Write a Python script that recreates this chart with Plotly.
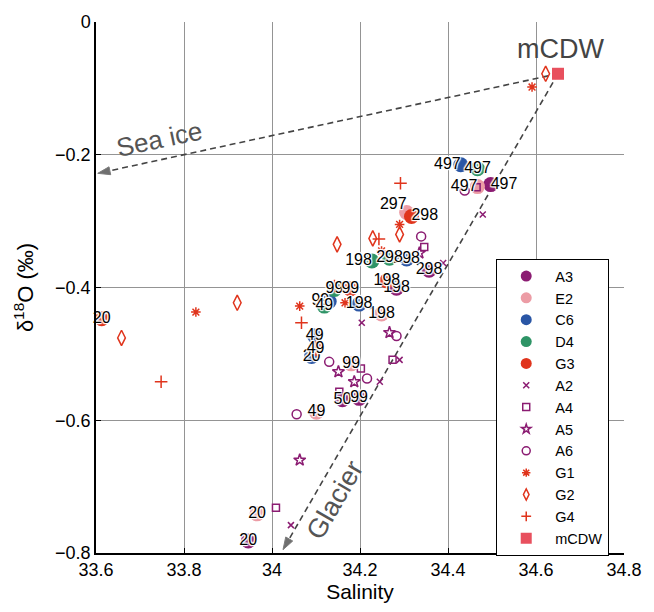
import plotly.graph_objects as go

# ---------------- data ----------------
A3_x = [33.946, 34.160, 34.198, 34.283, 34.357, 34.497]
A3_y = [-0.782, -0.569, -0.567, -0.401, -0.374, -0.245]
A3_t = ["20", "50", "99", "198", "298", "497"]

E2_x = [33.966, 34.101, 34.180, 34.249, 34.306, 34.467]
E2_y = [-0.741, -0.588, -0.515, -0.440, -0.287, -0.248]
E2_t = ["20", "49", "99", "198", "297", "497"]

C6_x = [34.090, 34.097, 34.130, 34.198, 34.306, 34.429]
C6_y = [-0.504, -0.473, -0.421, -0.425, -0.357, -0.215]
C6_t = ["20", "49", "99", "198", "298", "497"]

D4_x = [34.119, 34.142, 34.227, 34.267, 34.467]
D4_y = [-0.428, -0.403, -0.360, -0.356, -0.221]
D4_t = ["49", "99", "198", "298", "497"]

G3_x = [33.613, 34.099, 34.178, 34.261, 34.317]
G3_y = [-0.447, -0.492, -0.402, -0.390, -0.293]
G3_t = ["20", "49", "99", "198", "298"]

A2_x = [34.043, 34.245, 34.290, 34.204, 34.389, 34.479]
A2_y = [-0.758, -0.542, -0.509, -0.453, -0.363, -0.290]

A4_x = [34.009, 34.153, 34.202, 34.274, 34.346, 34.465]
A4_y = [-0.732, -0.557, -0.522, -0.509, -0.339, -0.249]

A5_x = [34.063, 34.151, 34.187, 34.267, 34.335]
A5_y = [-0.660, -0.527, -0.542, -0.468, -0.348]

A6_x = [34.056, 34.130, 34.216, 34.283, 34.339, 34.438]
A6_y = [-0.591, -0.512, -0.537, -0.473, -0.323, -0.254]

G1_x = [33.827, 34.063, 34.166, 34.249, 34.290, 34.591]
G1_y = [-0.437, -0.428, -0.423, -0.345, -0.305, -0.098]

G2_x = [33.658, 33.921, 34.148, 34.229, 34.290, 34.622]
G2_y = [-0.476, -0.423, -0.335, -0.326, -0.320, -0.078]

G4_x = [33.748, 34.067, 34.142, 34.243, 34.292]
G4_y = [-0.542, -0.453, -0.398, -0.327, -0.243]

mCDW_x = [34.65]
mCDW_y = [-0.078]

seaice_end = (33.604, -0.228)
glacier_end = (34.025, -0.795)

# ---------------- styles ----------------
PURPLE = "#8B1C72"
PINK = "#EC9CA5"
BLUE = "#2A56A5"
GREEN = "#2E9466"
RED = "#E0341C"
MCDW = "#E8505E"
FONT = "Liberation Sans, Arial, sans-serif"
HALO = ("1px 1px 1px white, -1px -1px 1px white, 1px -1px 1px white, "
        "-1px 1px 1px white, 0px 1px 1px white, 0px -1px 1px white")

fig = go.Figure()

# mixing lines with arrows
for end in (seaice_end, glacier_end):
    fig.add_trace(go.Scatter(
        x=[mCDW_x[0], end[0]], y=[mCDW_y[0], end[1]],
        mode="lines+markers", showlegend=False, hoverinfo="skip",
        line=dict(color="#444444", width=1.6, dash="6px,4px"),
        marker=dict(symbol="arrow", angleref="previous", size=[0, 13], color="#333333"),
        cliponaxis=False,
    ))

circle_series = [
    ("A3", A3_x, A3_y, A3_t, PURPLE, ["middle center"] * 5 + ["middle right"]),
    ("E2", E2_x, E2_y, E2_t, PINK, ["middle center"] * 4 + ["top left", "middle left"]),
    ("C6", C6_x, C6_y, C6_t, BLUE, ["middle center", "middle center", "middle left",
                                    "middle center", "middle center", "middle left"]),
    ("D4", D4_x, D4_y, D4_t, GREEN, ["middle center", "middle center", "middle left",
                                     "middle center", "middle center"]),
    ("G3", G3_x, G3_y, G3_t, RED, ["middle center"] * 4 + ["middle right"]),
]
# name, x, y, symbol, colour, plot size, legend size
small_series = [
    ("A2", A2_x, A2_y, "x-thin-open", PURPLE, 6, 6),
    ("A4", A4_x, A4_y, "square-open", PURPLE, 7, 7),
    ("A5", A5_x, A5_y, "star-open", PURPLE, 9, 7),
    ("A6", A6_x, A6_y, "circle-open", PURPLE, 9, 8),
    ("G1", G1_x, G1_y, "asterisk-open", RED, 8, 7),
    ("G2", G2_x, G2_y, "diamond-tall-open", RED, 11, 8),
    ("G4", G4_x, G4_y, "cross-thin-open", RED, 9, 7),
]

# data markers (no legend)
for name, xs, ys, ts, color, pos in circle_series:
    fig.add_trace(go.Scatter(x=xs, y=ys, mode="markers", showlegend=False,
                             marker=dict(symbol="circle", size=15, color=color),
                             cliponaxis=False))
for name, xs, ys, sym, color, size, lsize in small_series:
    fig.add_trace(go.Scatter(x=xs, y=ys, mode="markers", showlegend=False,
                             marker=dict(symbol=sym, size=size, color=color,
                                         line=dict(color=color, width=1.5)),
                             cliponaxis=False))
fig.add_trace(go.Scatter(x=mCDW_x, y=mCDW_y, mode="markers", showlegend=False,
                         marker=dict(symbol="square", size=12, color=MCDW),
                         cliponaxis=False))

# depth labels on top
for name, xs, ys, ts, color, pos in circle_series:
    fig.add_trace(go.Scatter(x=xs, y=ys, mode="text", text=ts, textposition=pos,
                             showlegend=False, hoverinfo="skip",
                             textfont=dict(family=FONT, size=16, color="black", shadow=HALO),
                             cliponaxis=False))

# legend-only entries
for name, xs, ys, ts, color, pos in circle_series:
    fig.add_trace(go.Scatter(x=[None], y=[None], name=name, mode="markers",
                             marker=dict(symbol="circle", size=11, color=color)))
for name, xs, ys, sym, color, size, lsize in small_series:
    fig.add_trace(go.Scatter(x=[None], y=[None], name=name, mode="markers",
                             marker=dict(symbol=sym, size=lsize, color=color,
                                         line=dict(color=color, width=1.5))))
fig.add_trace(go.Scatter(x=[None], y=[None], name="mCDW", mode="markers",
                         marker=dict(symbol="square", size=11, color=MCDW)))

# text annotations
fig.add_annotation(x=34.65, y=-0.078, text="mCDW", showarrow=False,
                   yshift=25, xshift=2, font=dict(family=FONT, size=27, color="#444444"))
fig.add_annotation(x=33.745, y=-0.176, text="Sea ice", showarrow=False, textangle=-12,
                   font=dict(family=FONT, size=26, color="#555555"))
fig.add_annotation(x=34.143, y=-0.72, text="Glacier", showarrow=False, textangle=-60,
                   font=dict(family=FONT, size=27, color="#555555"))

axis_common = dict(
    showgrid=True, gridcolor="#949494", gridwidth=1,
    showline=True, linecolor="black", linewidth=1.5,
    ticks="inside", ticklen=5, tickcolor="black",
    tickfont=dict(family=FONT, size=18, color="black"),
    zeroline=False, mirror=False,
)

fig.update_layout(
    width=654, height=612,
    margin=dict(l=96, r=24, t=20, b=59),
    paper_bgcolor="white", plot_bgcolor="white",
    font=dict(family=FONT, color="black"),
    xaxis=dict(range=[33.6, 34.8], dtick=0.2, tick0=33.6,
               title=dict(text="Salinity", font=dict(family=FONT, size=21), standoff=4),
               **axis_common),
    yaxis=dict(range=[-0.8, 0], dtick=0.2,
               title=dict(text="δ<sup>18</sup>O (‰)", font=dict(family=FONT, size=22), standoff=15),
               **axis_common),
    legend=dict(x=0.758, y=0.5535, xanchor="left", yanchor="top",
                bgcolor="white", bordercolor="black", borderwidth=1,
                font=dict(family=FONT, size=14.5), tracegroupgap=0,
                itemwidth=48),
    showlegend=True,
)

fig.write_html("out.html")
